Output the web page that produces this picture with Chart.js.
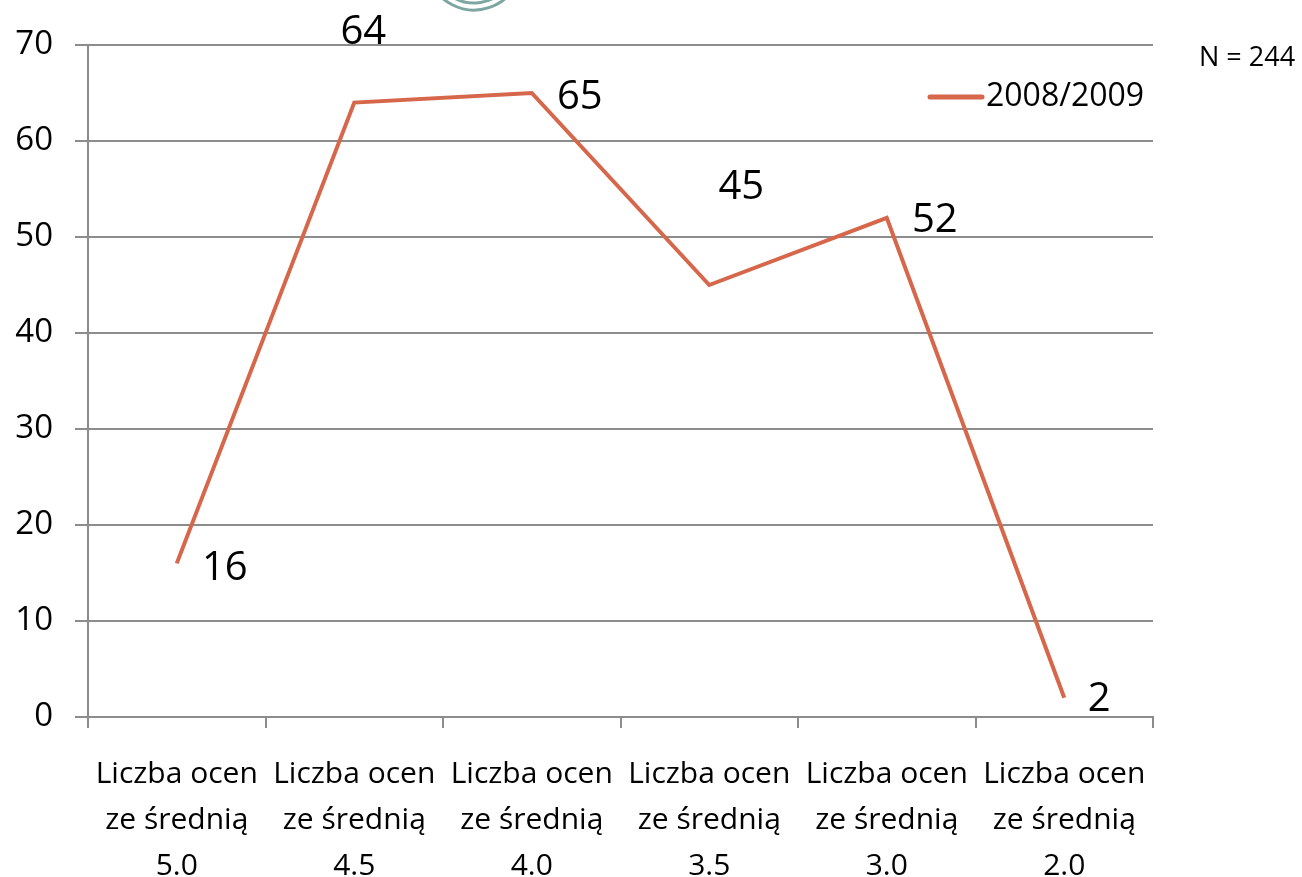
<!DOCTYPE html>
<html>
<head>
<meta charset="utf-8">
<script src="https://cdn.jsdelivr.net/npm/chart.js@4/dist/chart.umd.min.js"></script>
<style>
  html, body { margin: 0; padding: 0; background: #fff; }
  #wrap { width: 1302px; height: 877px; position: relative; }
</style>
</head>
<body>
<div id="wrap"><canvas id="chart"></canvas></div>
<script>
// categories, values and ticks
const categories = [
  ["Liczba ocen", "ze średnią", "5.0"],
  ["Liczba ocen", "ze średnią", "4.5"],
  ["Liczba ocen", "ze średnią", "4.0"],
  ["Liczba ocen", "ze średnią", "3.5"],
  ["Liczba ocen", "ze średnią", "3.0"],
  ["Liczba ocen", "ze średnią", "2.0"],
]
const values = [16, 64, 65, 45, 52, 2]
const seriesName = "2008/2009"
const yMin = 0
const yMax = 70
const yStep = 10
const noteText = "N = 244"

const FONT = "'Open Sans', 'Noto Sans', sans-serif"
const LINE_COLOR = "#d6674a"
const GRID_COLOR = "#8c8c8c"

// where each value label sits relative to its point (dx, dy)
const labelOffsets = [[48, 5], [9, -70], [48, 5], [32, -97], [48, 3], [35, 2]]

const extras = {
  id: "extras",
  afterDatasetsDraw(chart) {
    const ctx = chart.ctx
    const meta = chart.getDatasetMeta(0)
    ctx.save()
    // value labels
    ctx.fillStyle = "#000"
    ctx.font = `40px ${FONT}`
    ctx.textAlign = "center"
    ctx.textBaseline = "middle"
    meta.data.forEach((pt, i) => {
      const [dx, dy] = labelOffsets[i]
      ctx.fillText(String(values[i]), pt.x + dx, pt.y + dy)
    })

    // legend
    ctx.strokeStyle = LINE_COLOR
    ctx.lineWidth = 5
    ctx.lineCap = "round"
    ctx.beginPath()
    ctx.moveTo(930, 97)
    ctx.lineTo(982, 97)
    ctx.stroke()
    ctx.font = `32px ${FONT}`
    ctx.textAlign = "left"
    ctx.fillText(seriesName, 986, 97)

    // note
    ctx.font = `27px ${FONT}`
    ctx.fillText(noteText, 1199, 58)

    // cut-off logo rings at the top
    ctx.strokeStyle = "#7da6a1"
    ctx.lineWidth = 3
    ctx.lineCap = "butt"
    ctx.beginPath()
    ctx.arc(474, -38, 48, 0.15 * Math.PI, 0.85 * Math.PI)
    ctx.stroke()
    ctx.beginPath()
    ctx.arc(474, -38, 41, 0.2 * Math.PI, 0.8 * Math.PI)
    ctx.stroke()
    ctx.restore()
  },
}

new Chart(document.getElementById("chart"), {
  type: "line",
  data: {
    labels: categories,
    datasets: [
      {
        label: seriesName,
        data: values,
        borderColor: LINE_COLOR,
        borderWidth: 4,
        pointRadius: 0,
        tension: 0,
        fill: false,
      },
    ],
  },
  options: {
    responsive: true,
    maintainAspectRatio: false,
    animation: false,
    devicePixelRatio: 1,
    layout: {
      padding: { top: 45, right: 149, left: 0, bottom: 0 },
    },
    scales: {
      x: {
        offset: true,
        grid: {
          offset: true,
          drawOnChartArea: false,
          color: GRID_COLOR,
          lineWidth: 2,
          tickLength: 11,
        },
        border: { color: GRID_COLOR, width: 2 },
        ticks: {
          color: "#000",
          maxRotation: 0,
          autoSkip: false,
          padding: 24,
          font: { family: FONT, size: 30, lineHeight: 1.53 },
        },
        afterFit: (scale) => {
          scale.height = 160
        },
      },
      y: {
        min: yMin,
        max: yMax,
        grid: {
          color: GRID_COLOR,
          lineWidth: 2,
          tickLength: 13,
        },
        border: { color: GRID_COLOR, width: 2 },
        ticks: {
          stepSize: yStep,
          color: "#000",
          padding: 22,
          font: { family: FONT, size: 33 },
        },
        afterFit: (scale) => {
          scale.width = 88
        },
      },
    },
    plugins: {
      legend: { display: false },
      tooltip: { enabled: false },
    },
  },
  plugins: [extras],
})
</script>
</body>
</html>
